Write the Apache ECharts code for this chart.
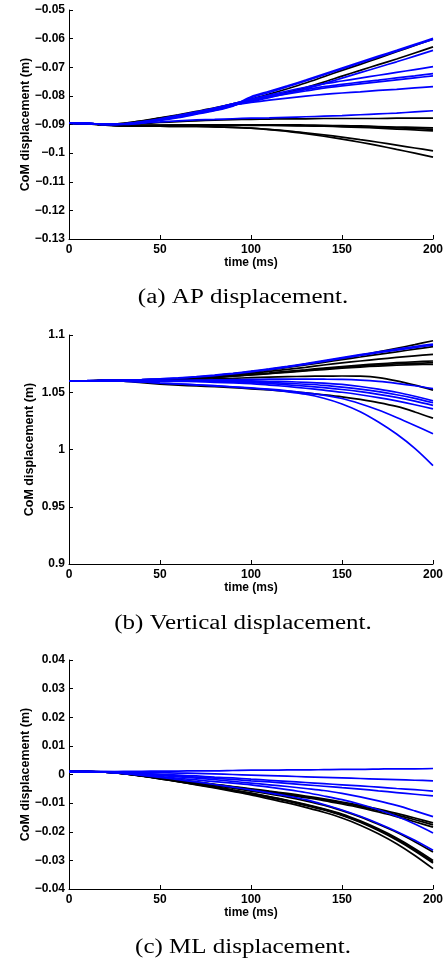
<!DOCTYPE html>
<html>
<head>
<meta charset="utf-8">
<script src="https://cdn.jsdelivr.net/npm/echarts@6/dist/echarts.min.js"></script>
<style>html,body{margin:0;padding:0;background:#fff}#c{width:447px;height:962px}</style>
</head>
<body>
<div id="c"></div>
<script>
const TIME = [0,10,20,30,40,50,60,70,80,90,100,110,120,130,140,150,160,170,180,190,200];
const X_TICKS = [0,50,100,150,200];
const CAPTIONS = ['(a) AP displacement.','(b) Vertical displacement.','(c) ML displacement.'];
const Y_NAME = 'CoM displacement (m)';
const X_NAME = 'time (ms)';

// (a) AP displacement
const apBlue1 = [-0.0895,-0.0896,-0.0899,-0.0899,-0.0893,-0.0884,-0.0874,-0.0862,-0.0850,-0.0834,-0.0803,-0.0784,-0.0765,-0.0745,-0.0724,-0.0703,-0.0682,-0.0661,-0.0641,-0.0620,-0.0599];
const apBlue2 = [-0.0895,-0.0896,-0.0899,-0.0900,-0.0894,-0.0886,-0.0876,-0.0864,-0.0852,-0.0836,-0.0807,-0.0788,-0.0768,-0.0748,-0.0727,-0.0706,-0.0685,-0.0664,-0.0644,-0.0623,-0.0603];
const apBlue3 = [-0.0895,-0.0896,-0.0899,-0.0898,-0.0890,-0.0880,-0.0868,-0.0856,-0.0844,-0.0832,-0.0820,-0.0806,-0.0791,-0.0775,-0.0757,-0.0738,-0.0719,-0.0700,-0.0681,-0.0661,-0.0641];
const apBlue4 = [-0.0895,-0.0896,-0.0900,-0.0899,-0.0895,-0.0884,-0.0872,-0.0859,-0.0844,-0.0828,-0.0812,-0.0797,-0.0783,-0.0770,-0.0758,-0.0748,-0.0738,-0.0728,-0.0718,-0.0708,-0.0698];
const apBlue5 = [-0.0895,-0.0896,-0.0900,-0.0898,-0.0892,-0.0883,-0.0871,-0.0858,-0.0843,-0.0828,-0.0814,-0.0801,-0.0789,-0.0778,-0.0768,-0.0760,-0.0752,-0.0745,-0.0737,-0.0730,-0.0722];
const apBlue6 = [-0.0895,-0.0896,-0.0900,-0.0898,-0.0893,-0.0884,-0.0873,-0.0861,-0.0846,-0.0830,-0.0816,-0.0804,-0.0793,-0.0783,-0.0773,-0.0765,-0.0758,-0.0751,-0.0744,-0.0737,-0.0730];
const apBlue7 = [-0.0895,-0.0896,-0.0900,-0.0899,-0.0892,-0.0883,-0.0872,-0.0860,-0.0845,-0.0832,-0.0823,-0.0815,-0.0808,-0.0801,-0.0795,-0.0790,-0.0786,-0.0781,-0.0777,-0.0772,-0.0768];
const apBlue8 = [-0.0895,-0.0896,-0.0900,-0.0899,-0.0895,-0.0891,-0.0887,-0.0884,-0.0882,-0.0880,-0.0878,-0.0877,-0.0875,-0.0873,-0.0871,-0.0869,-0.0866,-0.0863,-0.0860,-0.0856,-0.0852];
const apBlack1 = [-0.0895,-0.0896,-0.0899,-0.0896,-0.0887,-0.0877,-0.0866,-0.0854,-0.0842,-0.0828,-0.0812,-0.0794,-0.0775,-0.0755,-0.0733,-0.0711,-0.0690,-0.0668,-0.0646,-0.0624,-0.0602];
const apBlack2 = [-0.0895,-0.0896,-0.0899,-0.0896,-0.0888,-0.0878,-0.0868,-0.0857,-0.0845,-0.0833,-0.0818,-0.0803,-0.0788,-0.0771,-0.0752,-0.0731,-0.0711,-0.0691,-0.0671,-0.0650,-0.0629];
const apBlack3 = [-0.0895,-0.0897,-0.0901,-0.0900,-0.0897,-0.0893,-0.0890,-0.0887,-0.0885,-0.0883,-0.0882,-0.0881,-0.0880,-0.0880,-0.0879,-0.0879,-0.0879,-0.0879,-0.0878,-0.0878,-0.0878];
const apBlack4 = [-0.0895,-0.0897,-0.0901,-0.0903,-0.0903,-0.0902,-0.0902,-0.0901,-0.0901,-0.0901,-0.0901,-0.0901,-0.0901,-0.0902,-0.0903,-0.0904,-0.0905,-0.0907,-0.0909,-0.0910,-0.0912];
const apBlack5 = [-0.0895,-0.0897,-0.0901,-0.0903,-0.0903,-0.0903,-0.0902,-0.0902,-0.0902,-0.0902,-0.0902,-0.0902,-0.0903,-0.0904,-0.0905,-0.0906,-0.0908,-0.0910,-0.0912,-0.0914,-0.0917];
const apBlack6 = [-0.0895,-0.0897,-0.0901,-0.0903,-0.0904,-0.0904,-0.0903,-0.0903,-0.0903,-0.0903,-0.0903,-0.0903,-0.0904,-0.0905,-0.0906,-0.0908,-0.0910,-0.0913,-0.0916,-0.0919,-0.0922];
const apBlack7 = [-0.0895,-0.0898,-0.0902,-0.0905,-0.0906,-0.0906,-0.0907,-0.0907,-0.0908,-0.0910,-0.0913,-0.0917,-0.0922,-0.0929,-0.0936,-0.0944,-0.0953,-0.0962,-0.0972,-0.0982,-0.0992];
const apBlack8 = [-0.0895,-0.0898,-0.0902,-0.0905,-0.0906,-0.0906,-0.0907,-0.0907,-0.0908,-0.0910,-0.0913,-0.0918,-0.0924,-0.0932,-0.0941,-0.0951,-0.0962,-0.0974,-0.0987,-0.1000,-0.1014];

// (b) Vertical displacement
const vBlue1 = [1.0600,1.0601,1.0604,1.0607,1.0611,1.0617,1.0625,1.0636,1.0650,1.0666,1.0684,1.0704,1.0726,1.0750,1.0776,1.0802,1.0828,1.0853,1.0876,1.0899,1.0921];
const vBlue2 = [1.0600,1.0601,1.0604,1.0606,1.0610,1.0616,1.0623,1.0633,1.0646,1.0661,1.0678,1.0698,1.0720,1.0744,1.0770,1.0796,1.0821,1.0845,1.0868,1.0890,1.0912];
const vBlue3 = [1.0600,1.0600,1.0601,1.0602,1.0603,1.0603,1.0604,1.0606,1.0608,1.0610,1.0612,1.0614,1.0615,1.0615,1.0614,1.0612,1.0606,1.0595,1.0578,1.0557,1.0532];
const vBlue4 = [1.0600,1.0600,1.0601,1.0601,1.0601,1.0601,1.0601,1.0601,1.0601,1.0600,1.0599,1.0596,1.0592,1.0587,1.0580,1.0568,1.0550,1.0527,1.0500,1.0465,1.0425];
const vBlue5 = [1.0600,1.0600,1.0601,1.0601,1.0600,1.0600,1.0600,1.0599,1.0597,1.0595,1.0592,1.0586,1.0578,1.0570,1.0560,1.0545,1.0527,1.0505,1.0478,1.0446,1.0408];
const vBlue6 = [1.0600,1.0600,1.0601,1.0600,1.0600,1.0599,1.0598,1.0596,1.0593,1.0589,1.0584,1.0575,1.0565,1.0553,1.0540,1.0524,1.0505,1.0482,1.0455,1.0423,1.0386];
const vBlue7 = [1.0600,1.0600,1.0601,1.0600,1.0599,1.0597,1.0595,1.0592,1.0587,1.0582,1.0575,1.0563,1.0550,1.0535,1.0518,1.0500,1.0478,1.0453,1.0424,1.0391,1.0355];
const vBlue8 = [1.0600,1.0600,1.0601,1.0598,1.0590,1.0581,1.0573,1.0565,1.0557,1.0548,1.0538,1.0527,1.0513,1.0495,1.0475,1.0445,1.0400,1.0345,1.0280,1.0210,1.0137];
const vBlue9 = [1.0600,1.0600,1.0601,1.0598,1.0590,1.0580,1.0572,1.0564,1.0556,1.0546,1.0535,1.0522,1.0505,1.0483,1.0448,1.0398,1.0330,1.0240,1.0135,1.0010,0.9860];
const vBlack1 = [1.0600,1.0600,1.0602,1.0605,1.0608,1.0613,1.0620,1.0630,1.0643,1.0660,1.0680,1.0700,1.0722,1.0745,1.0770,1.0796,1.0824,1.0853,1.0884,1.0916,1.0950];
const vBlack2 = [1.0600,1.0600,1.0602,1.0605,1.0608,1.0613,1.0620,1.0629,1.0641,1.0657,1.0675,1.0695,1.0716,1.0738,1.0761,1.0785,1.0808,1.0831,1.0853,1.0876,1.0898];
const vBlack3 = [1.0600,1.0600,1.0602,1.0604,1.0607,1.0611,1.0617,1.0625,1.0636,1.0650,1.0665,1.0682,1.0700,1.0718,1.0738,1.0757,1.0773,1.0789,1.0804,1.0818,1.0831];
const vBlack4 = [1.0600,1.0600,1.0602,1.0604,1.0607,1.0610,1.0615,1.0622,1.0632,1.0643,1.0655,1.0668,1.0682,1.0696,1.0711,1.0725,1.0737,1.0748,1.0758,1.0766,1.0773];
const vBlack5 = [1.0600,1.0600,1.0602,1.0604,1.0607,1.0610,1.0615,1.0622,1.0631,1.0642,1.0653,1.0665,1.0678,1.0691,1.0705,1.0718,1.0729,1.0739,1.0747,1.0753,1.0758];
const vBlack6 = [1.0600,1.0600,1.0602,1.0604,1.0606,1.0609,1.0614,1.0621,1.0630,1.0640,1.0651,1.0662,1.0674,1.0686,1.0698,1.0710,1.0720,1.0729,1.0736,1.0741,1.0744];
const vBlack7 = [1.0600,1.0600,1.0601,1.0602,1.0603,1.0605,1.0608,1.0612,1.0617,1.0622,1.0627,1.0632,1.0636,1.0639,1.0641,1.0642,1.0640,1.0628,1.0600,1.0562,1.0518];
const vBlack8 = [1.0600,1.0600,1.0601,1.0596,1.0583,1.0571,1.0562,1.0555,1.0548,1.0540,1.0530,1.0520,1.0508,1.0494,1.0478,1.0460,1.0437,1.0410,1.0376,1.0328,1.0274];

// (c) ML displacement
const mlBlue1 = [0.0010,0.0010,0.0010,0.0011,0.0011,0.0012,0.0012,0.0013,0.0013,0.0014,0.0015,0.0015,0.0016,0.0016,0.0017,0.0018,0.0018,0.0019,0.0020,0.0020,0.0021];
const mlBlue2 = [0.0010,0.0010,0.0010,0.0009,0.0008,0.0007,0.0005,0.0004,0.0002,0.0000,-0.0002,-0.0004,-0.0006,-0.0008,-0.0010,-0.0012,-0.0014,-0.0016,-0.0018,-0.0020,-0.0022];
const mlBlue3 = [0.0010,0.0010,0.0009,0.0007,0.0004,0.0001,-0.0002,-0.0005,-0.0009,-0.0012,-0.0016,-0.0020,-0.0024,-0.0028,-0.0032,-0.0036,-0.0040,-0.0044,-0.0049,-0.0053,-0.0058];
const mlBlue4 = [0.0010,0.0010,0.0009,0.0006,0.0003,-0.0001,-0.0005,-0.0009,-0.0013,-0.0017,-0.0022,-0.0026,-0.0031,-0.0036,-0.0041,-0.0046,-0.0051,-0.0057,-0.0063,-0.0069,-0.0075];
const mlBlue5 = [0.0010,0.0010,0.0008,0.0005,0.0001,-0.0003,-0.0008,-0.0013,-0.0018,-0.0024,-0.0030,-0.0036,-0.0042,-0.0049,-0.0056,-0.0066,-0.0078,-0.0092,-0.0108,-0.0127,-0.0147];
const mlBlue6 = [0.0010,0.0010,0.0008,0.0004,-0.0001,-0.0007,-0.0013,-0.0019,-0.0025,-0.0030,-0.0036,-0.0044,-0.0053,-0.0063,-0.0075,-0.0088,-0.0104,-0.0123,-0.0146,-0.0173,-0.0204];
const mlBlue7 = [0.0010,0.0010,0.0008,0.0003,-0.0003,-0.0010,-0.0018,-0.0026,-0.0035,-0.0044,-0.0054,-0.0064,-0.0075,-0.0088,-0.0105,-0.0124,-0.0146,-0.0171,-0.0199,-0.0230,-0.0265];
const mlBlack1 = [0.0010,0.0010,0.0009,0.0004,-0.0003,-0.0010,-0.0018,-0.0026,-0.0034,-0.0042,-0.0050,-0.0058,-0.0066,-0.0075,-0.0085,-0.0096,-0.0108,-0.0121,-0.0136,-0.0152,-0.0169];
const mlBlack2 = [0.0010,0.0010,0.0009,0.0004,-0.0003,-0.0011,-0.0019,-0.0027,-0.0035,-0.0043,-0.0052,-0.0060,-0.0069,-0.0078,-0.0088,-0.0099,-0.0112,-0.0126,-0.0141,-0.0158,-0.0176];
const mlBlack3 = [0.0010,0.0010,0.0009,0.0004,-0.0004,-0.0012,-0.0020,-0.0028,-0.0037,-0.0045,-0.0054,-0.0063,-0.0072,-0.0081,-0.0091,-0.0103,-0.0116,-0.0131,-0.0147,-0.0165,-0.0184];
const mlBlack4 = [0.0010,0.0010,0.0008,0.0003,-0.0004,-0.0012,-0.0020,-0.0029,-0.0038,-0.0048,-0.0058,-0.0068,-0.0079,-0.0092,-0.0107,-0.0126,-0.0148,-0.0174,-0.0202,-0.0235,-0.0271];
const mlBlack5 = [0.0010,0.0010,0.0008,0.0003,-0.0005,-0.0014,-0.0023,-0.0033,-0.0043,-0.0054,-0.0065,-0.0077,-0.0090,-0.0104,-0.0120,-0.0138,-0.0162,-0.0190,-0.0222,-0.0259,-0.0300];
const mlBlack6 = [0.0010,0.0010,0.0008,0.0003,-0.0005,-0.0014,-0.0024,-0.0034,-0.0044,-0.0055,-0.0066,-0.0078,-0.0091,-0.0106,-0.0122,-0.0141,-0.0165,-0.0193,-0.0225,-0.0263,-0.0305];
const mlBlack7 = [0.0010,0.0010,0.0008,0.0003,-0.0005,-0.0015,-0.0025,-0.0035,-0.0045,-0.0056,-0.0067,-0.0080,-0.0093,-0.0108,-0.0124,-0.0143,-0.0167,-0.0196,-0.0229,-0.0267,-0.0309];
const mlBlack8 = [0.0010,0.0010,0.0008,0.0003,-0.0006,-0.0015,-0.0025,-0.0036,-0.0047,-0.0059,-0.0071,-0.0085,-0.0099,-0.0115,-0.0132,-0.0152,-0.0177,-0.0207,-0.0242,-0.0283,-0.0329];

const AP_Y = {min:-0.13, max:-0.05, interval:0.01};
const V_Y = {min:0.9, max:1.1, interval:0.05};
const ML_Y = {min:-0.04, max:0.04, interval:0.01};

const panels = [
  {top:10, y:AP_Y, gap:37, black:[apBlack1,apBlack2,apBlack3,apBlack4,apBlack5,apBlack6,apBlack7,apBlack8], blue:[apBlue1,apBlue2,apBlue3,apBlue4,apBlue5,apBlue6,apBlue7,apBlue8], cap:298},
  {top:335, y:V_Y, gap:33, black:[vBlack1,vBlack2,vBlack3,vBlack4,vBlack5,vBlack6,vBlack7,vBlack8], blue:[vBlue1,vBlue2,vBlue3,vBlue4,vBlue5,vBlue6,vBlue7,vBlue8,vBlue9], cap:624},
  {top:660, y:ML_Y, gap:37, black:[mlBlack1,mlBlack2,mlBlack3,mlBlack4,mlBlack5,mlBlack6,mlBlack7,mlBlack8], blue:[mlBlue1,mlBlue2,mlBlue3,mlBlue4,mlBlue5,mlBlue6,mlBlue7], cap:948}
];

const FONT = '"Liberation Sans", Arial, sans-serif';
const fmt = v => String(+v.toFixed(4)).replace('-', '\u2212');
const grids = [], xAxes = [], yAxes = [], series = [], graphics = [];
panels.forEach((p, i) => {
  grids.push({left:69, top:p.top, width:364, height:229, containLabel:false});
  xAxes.push({
    type:'value', gridIndex:i, min:0, max:200, interval:50,
    name:X_NAME, nameLocation:'middle', nameGap:18, nameMoveOverlap:false,
    nameTextStyle:{fontFamily:FONT, fontWeight:'bold', fontSize:12, color:'#000'},
    axisLine:{onZero:false, lineStyle:{color:'#000', width:1}},
    axisTick:{inside:true, length:4, lineStyle:{color:'#000'}},
    axisLabel:{fontFamily:FONT, fontWeight:'bold', fontSize:12, color:'#000', margin:5,
      formatter: v => X_TICKS.includes(v) ? String(v) : ''},
    splitLine:{show:false}
  });
  yAxes.push({
    type:'value', gridIndex:i, min:p.y.min, max:p.y.max, interval:p.y.interval,
    name:Y_NAME, nameLocation:'middle', nameGap:p.gap, nameRotate:90, nameMoveOverlap:false,
    nameTextStyle:{fontFamily:FONT, fontWeight:'bold', fontSize:12.5, color:'#000'},
    axisLine:{show:true, onZero:false, lineStyle:{color:'#000', width:1}},
    axisTick:{show:true, inside:true, length:4, lineStyle:{color:'#000'}},
    axisLabel:{fontFamily:FONT, fontWeight:'bold', fontSize:12, color:'#000', margin:4, formatter:fmt},
    splitLine:{show:false}
  });
  const add = (arr, color) => series.push({
    type:'line', xAxisIndex:i, yAxisIndex:i, showSymbol:false, smooth:0.3,
    lineStyle:{color, width:1.7}, data: TIME.map((t, k) => [t, arr[k]]), silent:true
  });
  p.black.forEach(a => add(a, '#000000'));
  p.blue.forEach(a => add(a, '#0000ff'));
  graphics.push({type:'text', x:243, y:p.cap, scaleX:1.25,
    style:{text:CAPTIONS[i], fontFamily:'"Liberation Serif", "Times New Roman", serif', fontSize:20, fill:'#000',
      textAlign:'center', align:'center', textVerticalAlign:'middle', verticalAlign:'middle'}});
});

const chart = echarts.init(document.getElementById('c'), null, {renderer:'canvas'});
chart.setOption({animation:false, backgroundColor:'#fff', grid:grids, xAxis:xAxes, yAxis:yAxes, series, graphic:graphics});
</script>
</body>
</html>
